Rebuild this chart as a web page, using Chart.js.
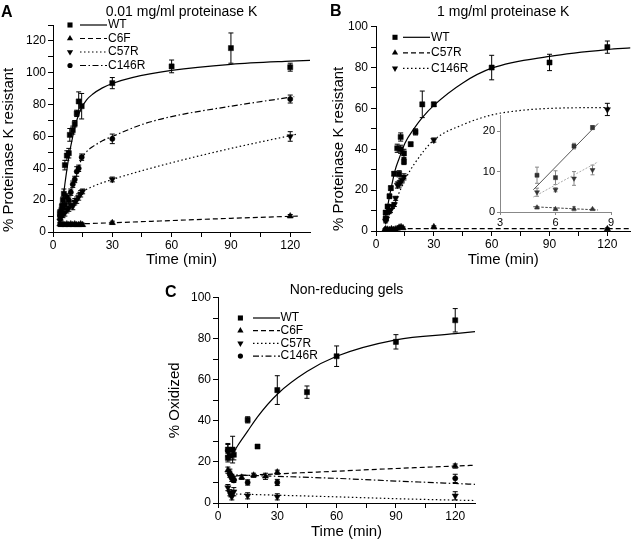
<!DOCTYPE html>
<html>
<head>
<meta charset="utf-8">
<script src="https://cdn.jsdelivr.net/npm/chart.js@4.4.1/dist/chart.umd.min.js"></script>
<style>
  body { margin: 0; background: #fff; }
  #wrap { position: relative; width: 635px; height: 543px; background: #fff; font-family: 'Liberation Sans', Arial, sans-serif; }
  #wrap canvas { position: absolute; }
  .panel { position: absolute; font-weight: bold; font-size: 16px; line-height: 16px; color: #000; }
</style>
</head>
<body>
<div id="wrap">
  <canvas id="chartA" width="318" height="270" style="left:0;top:0"></canvas>
  <canvas id="chartB" width="317" height="270" style="left:318px;top:0"></canvas>
  <canvas id="chartInset" width="150" height="125" style="left:470px;top:105px"></canvas>
  <canvas id="chartC" width="340" height="268" style="left:150px;top:275px"></canvas>
  <div class="panel" style="left:1px;top:4px">A</div>
  <div class="panel" style="left:330px;top:3px">B</div>
  <div class="panel" style="left:165px;top:284px">C</div>
</div>
<script>
// ---- data ----

// legend labels
const labelsAC = ['WT', 'C6F', 'C57R', 'C146R'];
const labelsB = ['WT', 'C57R', 'C146R'];

// Panel A - 0.01 mg/ml proteinase K
const aWT_t   = [3.5, 4.5, 5, 5.5, 6, 7, 8, 8.5, 10, 11, 12, 13, 14.5, 30, 60, 90, 120];
const aWT_y   = [12, 16, 20, 24, 42, 48, 49.5, 61, 64, 68, 74.5, 82, 79, 93.5, 104, 115.5, 103.5];
const aWT_err = [2, 2, 2, 3, 3, 3, 3, 4, 2.5, 2, 2, 6, 8, 3.5, 4, 9.5, 2.5];

const aC6F_t   = [3.5, 4, 5, 6, 7, 8, 9, 10, 11, 12, 13, 14, 15, 30, 120];
const aC6F_y   = [5, 4.5, 5, 4.5, 5, 4.5, 5, 4.5, 5, 4.5, 4.5, 5, 4.5, 5.8, 10];
const aC6F_err = [1, 1, 1, 1, 1, 1, 1, 1, 1, 1, 1, 1, 1, 1, 1];

const aC57R_t   = [3.5, 4, 5, 6, 7, 8, 9, 10, 11, 12, 13, 14, 15, 30, 120];
const aC57R_y   = [7, 9, 11, 12, 14, 15, 17, 16, 19, 20, 22, 24, 25.5, 33, 60];
const aC57R_err = [1.5, 1.5, 2, 2, 2, 2, 2, 2, 2, 2, 2, 2, 1.5, 1.5, 3];

const aC146R_t   = [3.5, 4, 5, 6, 7, 8, 9, 10, 11, 12, 13, 14.5, 30, 120];
const aC146R_y   = [10, 13, 15, 17, 22, 20, 25, 30, 33, 38, 40, 47, 58.5, 83.5];
const aC146R_err = [2, 2, 2, 2, 2, 2, 2, 2, 2, 3, 2, 2, 3, 2.5];

// fitted curves, A
const aFitWT_t = [4, 6, 8, 10, 12, 14, 17, 20, 25, 30, 40, 60, 90, 120, 130];
const aFitWT   = [10, 30, 47, 60, 70, 77, 83, 86.5, 90.5, 93.3, 97, 101.5, 105.3, 107.3, 107.8];
const aFitC146R_t = [4, 8, 12, 14.5, 17, 20, 25, 30, 45, 60, 90, 122];
const aFitC146R   = [9, 22, 37, 46, 50.5, 53.5, 57.3, 60, 67.5, 72.5, 79, 85];
const aFitC57R_t = [4, 8, 12, 15, 20, 30, 45, 60, 90, 123];
const aFitC57R   = [7, 14, 20, 25, 28.5, 33, 38.5, 43.5, 52.5, 61.3];
const aFitC6F_t = [4, 15, 30, 60, 90, 124];
const aFitC6F   = [5, 5.2, 5.8, 7.2, 8.6, 10];

// Panel B - 1 mg/ml proteinase K
const bWT_t   = [5, 5, 6, 7, 7.7, 9.4, 11, 12, 12.8, 12.8, 14.5, 14.5, 18, 20.5, 24, 30, 60, 90, 120];
const bWT_y   = [6, 9, 12, 17, 21, 28, 40.5, 28, 46, 40, 38, 34, 42.5, 48.5, 62, 62, 80, 82.5, 90];
const bWT_err = [1, 1, 1, 1, 1, 1, 2, 1.5, 2, 2, 2, 1.5, 1, 1.5, 6.5, 1, 6, 4, 3];

const bC57R_t   = [4.5, 5, 6, 7, 8, 9, 10, 11, 12, 13, 14, 30, 120];
const bC57R_y   = [0.5, 1, 0.8, 0.6, 1, 0.7, 0.9, 1.2, 1.8, 2, 1.5, 2, 1];
const bC57R_err = [0.5, 0.5, 0.5, 0.5, 0.5, 0.5, 0.5, 0.5, 0.5, 0.5, 0.5, 0.5, 0.5];

const bC146R_t   = [5, 5.5, 6.8, 7.5, 8.5, 9.5, 10.2, 11.1, 12, 12.8, 13.5, 14.5, 30, 120];
const bC146R_y   = [5, 6, 9.5, 10, 12, 13, 16, 22.5, 23, 24, 25, 26.5, 44.5, 59.5];
const bC146R_err = [1, 1, 1, 1, 1, 1, 1, 1.5, 1.5, 1.5, 1.5, 1.5, 1, 3];

const bFitWT_t = [4.5, 5, 7, 10, 12, 15, 20, 24, 30, 45, 60, 90, 120, 132];
const bFitWT   = [5, 7, 17, 30, 35.5, 43, 50.5, 55.5, 61.5, 72.5, 79.7, 85.5, 88.8, 89.6];
const bFitC146R_t = [5, 7, 10, 15, 20, 30, 45, 60, 75, 90, 122];
const bFitC146R   = [4, 8.5, 14.5, 25, 33, 44.5, 52, 56.8, 59, 60, 60.5];
const bFitC57R_t = [4, 132];
const bFitC57R   = [1.2, 1.2];

// Inset of B (first minutes)
const insT = [5, 6, 7, 8];
const insWT      = [9.1, 8.5, 16.3, 20.9];
const insWT_err  = [2, 1.7, 0.7, 0.5];
const insC146R     = [4.9, 5.5, 8.3, 10.4];
const insC146R_err = [1, 0.5, 1.7, 1.2];
const insC57R     = [1.1, 0.7, 0.8, 0.7];
const insC57R_err = [0.3, 0.2, 0.5, 0.2];
const insFit_t = [4.8, 8.3];
const insFitWT    = [5.5, 21.9];
const insFitC146R = [3.7, 12.4];
const insFitC57R  = [1.3, 0.5];

// Panel C - non-reducing gels
const cWT_t   = [5, 5, 6, 7.4, 8, 15, 20, 30, 45, 60, 90, 120];
const cWT_y   = [26, 22, 23, 26, 23.5, 40.5, 27.5, 55, 54, 71.5, 78.5, 89];
const cWT_err = [3, 2, 2, 6.5, 2.5, 1.5, 0, 7, 3, 5, 3.5, 5.7];

const cC6F_t   = [5, 6, 7, 8, 12, 18, 24, 30, 120];
const cC6F_y   = [16, 15, 13, 12, 12.5, 13.5, 13, 15, 18];
const cC6F_err = [1.5, 1.5, 1, 1, 1, 1, 1.5, 1, 1];

const cC57R_t   = [5, 6, 6.5, 7, 8, 15, 30, 120];
const cC57R_y   = [7.5, 5, 4, 3, 5.5, 3.5, 3, 3.5];
const cC57R_err = [1.5, 1.5, 1, 1.5, 2, 1.5, 1.5, 2];

const cC146R_t   = [5, 6, 7, 8, 15, 30, 120];
const cC146R_y   = [25.5, 14, 12, 11, 10, 10, 12];
const cC146R_err = [3, 1.5, 1.5, 1, 1.3, 1.5, 2];

const cFitWT_t = [7, 10, 15, 20, 30, 45, 60, 90, 120, 130];
const cFitWT   = [23, 28, 35, 42, 53, 64, 71.5, 79.5, 82.5, 83.5];
const cFit_t = [5, 30, 60, 90, 120, 130];
const cFitC6F   = [13, 14.2, 15.5, 16.8, 18, 18.4];
const cFitC146R = [13.8, 13, 12, 10.7, 9.5, 9.1];
const cFitC57R  = [4.5, 3.8, 3, 2.1, 1.4, 1.2];

// ---- styles ----
Chart.defaults.font.family = "'Liberation Sans', Arial, sans-serif";
Chart.defaults.color = '#000';

const DASH = { solid: [], dashed: [5, 3], dotted: [1.5, 2.5], dashdot: [6, 2.5, 1.5, 2.5] };
const MARK = {
    square: { pointStyle: 'rect', radius: 3.6, rotation: 0 },
    up: { pointStyle: 'triangle', radius: 3.6, rotation: 0 },
    down: { pointStyle: 'triangle', radius: 3.6, rotation: 180 },
    dot: { pointStyle: 'circle', radius: 2.6, rotation: 0 }
};

function pts(xs, ys) {
    return xs.map((x, i) => ({ x: x, y: ys[i] }));
}

function markers(xs, ys, errs, mark, opt) {
    opt = opt || {};
    const m = MARK[mark];
    const col = opt.color || '#000';
    return {
        data: pts(xs, ys), errors: errs, errColor: opt.errColor || '#000', capHalf: opt.cap || 2.5,
        showLine: false, pointStyle: m.pointStyle, pointRotation: m.rotation,
        pointRadius: m.radius * (opt.scale || 1), pointBackgroundColor: col, pointBorderColor: col,
        pointBorderWidth: 0.5, order: 1
    };
}

function fit(xs, ys, dash, opt) {
    opt = opt || {};
    return {
        data: pts(xs, ys), showLine: true, pointRadius: 0,
        borderColor: opt.color || '#000', borderWidth: opt.width || 1.2,
        borderDash: opt.dash || DASH[dash], cubicInterpolationMode: 'monotone', fill: false, order: 2
    };
}

function axis(o) {
    const col = o.color || '#000';
    return {
        type: 'linear', min: o.min, max: o.max,
        afterFit: o.horiz ? s => { s.height = o.size; } : s => { s.width = o.size; },
        border: { display: true, color: col, width: 1 },
        grid: { display: true, drawOnChartArea: false, drawTicks: true, tickLength: o.tick || 5, color: col, tickColor: col, tickWidth: 1 },
        ticks: {
            stepSize: o.step, includeBounds: false, autoSkip: false, maxRotation: 0, minRotation: 0,
            padding: o.pad, font: { size: o.font || 12 }, color: '#000',
            callback: v => (v % o.every === 0 ? String(v) : '')
        },
        title: o.title
            ? { display: true, text: o.title, font: { size: 15, weight: 'normal' }, align: o.align || 'center', padding: o.tpad, color: '#000' }
            : { display: false }
    };
}

// error bars, drawn through the chart scales
const errorBars = {
    id: 'errorBars',
    beforeDatasetsDraw(chart) {
        const ctx = chart.ctx;
        const xs = chart.scales.x, ys = chart.scales.y;
        chart.data.datasets.forEach(ds => {
            if (!ds.errors) return;
            ctx.save();
            ctx.strokeStyle = ds.errColor;
            ctx.lineWidth = 1;
            ds.data.forEach((p, i) => {
                const e = ds.errors[i];
                if (!e) return;
                const px = xs.getPixelForValue(p.x);
                const top = ys.getPixelForValue(p.y + e);
                const bot = ys.getPixelForValue(p.y - e);
                const h = ds.capHalf;
                ctx.beginPath();
                ctx.moveTo(px, top); ctx.lineTo(px, bot);
                ctx.moveTo(px - h, top); ctx.lineTo(px + h, top);
                ctx.moveTo(px - h, bot); ctx.lineTo(px + h, bot);
                ctx.stroke();
            });
            ctx.restore();
        });
    }
};

// key with marker + line sample + label (like the original figure)
const keyBox = {
    id: 'keyBox',
    afterDraw(chart, args, opts) {
        if (!opts.items) return;
        const ctx = chart.ctx, area = chart.chartArea;
        ctx.save();
        opts.items.forEach((it, i) => {
            const y = area.top + opts.top + i * opts.gap;
            const m = MARK[it.mark];
            ctx.fillStyle = '#000';
            ctx.strokeStyle = '#000';
            Chart.helpers.drawPoint(ctx, { pointStyle: m.pointStyle, rotation: m.rotation, radius: m.radius, borderWidth: 0 }, area.left + opts.mark, y);
            ctx.lineWidth = 1.2;
            ctx.setLineDash(DASH[it.dash]);
            ctx.beginPath();
            ctx.moveTo(area.left + opts.from, y);
            ctx.lineTo(area.left + opts.to, y);
            ctx.stroke();
            ctx.setLineDash([]);
            ctx.font = "12px 'Liberation Sans', Arial, sans-serif";
            ctx.textBaseline = 'middle';
            ctx.textAlign = 'left';
            ctx.fillText(it.label, area.left + opts.text, y);
        });
        ctx.restore();
    }
};

function makeChart(id, datasets, o) {
    return new Chart(document.getElementById(id), {
        type: 'scatter',
        data: { datasets: datasets },
        options: {
            responsive: false, animation: false, events: [],
            layout: { padding: o.padding },
            scales: { x: o.x, y: o.y },
            plugins: {
                legend: { display: false },
                tooltip: { enabled: false },
                title: o.title
                    ? { display: true, text: o.title, fullSize: false, color: '#000',
                        font: { size: 14, weight: 'normal', lineHeight: o.titleLH || 1.2 }, padding: o.titlePad }
                    : { display: false },
                keyBox: o.key || {}
            }
        },
        plugins: [errorBars, keyBox]
    });
}

// ---- Panel A ----
makeChart('chartA', [
    markers(aWT_t, aWT_y, aWT_err, 'square'),
    markers(aC6F_t, aC6F_y, aC6F_err, 'up'),
    markers(aC57R_t, aC57R_y, aC57R_err, 'down'),
    markers(aC146R_t, aC146R_y, aC146R_err, 'dot'),
    fit(aFitWT_t, aFitWT, 'solid'),
    fit(aFitC6F_t, aFitC6F, 'dashed'),
    fit(aFitC57R_t, aFitC57R, 'dotted'),
    fit(aFitC146R_t, aFitC146R, 'dashdot')
], {
    padding: { left: 0, right: 8, top: 0, bottom: 0 },
    title: '0.01 mg/ml proteinase K',
    titlePad: { top: 4, bottom: 4.2 },
    x: axis({ horiz: true, min: 0, max: 130, step: 15, every: 30, size: 38, pad: 1, title: 'Time (min)', tpad: { top: 0, bottom: 1 } }),
    y: axis({ min: 0, max: 130, step: 10, every: 20, size: 53, pad: 2, title: '% Proteinase K resistant', align: 'start', tpad: { top: 0, bottom: 0 } }),
    key: {
        top: 0, gap: 13.5, mark: 17, from: 27, to: 54, text: 55,
        items: [
            { label: labelsAC[0], mark: 'square', dash: 'solid' },
            { label: labelsAC[1], mark: 'up', dash: 'dashed' },
            { label: labelsAC[2], mark: 'down', dash: 'dotted' },
            { label: labelsAC[3], mark: 'dot', dash: 'dashdot' }
        ]
    }
});

// ---- Panel B ----
makeChart('chartB', [
    markers(bWT_t, bWT_y, bWT_err, 'square'),
    markers(bC57R_t, bC57R_y, bC57R_err, 'up'),
    markers(bC146R_t, bC146R_y, bC146R_err, 'down'),
    fit(bFitWT_t, bFitWT, 'solid'),
    fit(bFitC57R_t, bFitC57R, 'dashed'),
    fit(bFitC146R_t, bFitC146R, 'dotted')
], {
    padding: { left: 0, right: 0, top: 0, bottom: 0 },
    title: '1 mg/ml proteinase K',
    titlePad: { top: 3.6, bottom: 6.3 },
    x: axis({ horiz: true, min: 0, max: 132, step: 15, every: 30, size: 39, pad: 1, title: 'Time (min)', tpad: { top: 0, bottom: 1 } }),
    y: axis({ min: 0, max: 100, step: 10, every: 20, size: 58, pad: 3, title: '% Proteinase K resistant', align: 'start', tpad: { top: 11.5, bottom: 0 } }),
    key: {
        top: 10.6, gap: 15.5, mark: 19, from: 27, to: 54, text: 55,
        items: [
            { label: labelsB[0], mark: 'square', dash: 'solid' },
            { label: labelsB[1], mark: 'up', dash: 'dashed' },
            { label: labelsB[2], mark: 'down', dash: 'dotted' }
        ]
    }
});

// ---- Inset of B ----
const grey = '#333';
makeChart('chartInset', [
    markers(insT, insWT, insWT_err, 'square', { color: grey, errColor: '#888', cap: 2, scale: 0.8 }),
    markers(insT, insC146R, insC146R_err, 'down', { color: grey, errColor: '#888', cap: 2, scale: 0.8 }),
    markers(insT, insC57R, insC57R_err, 'up', { color: grey, errColor: '#888', cap: 2, scale: 0.8 }),
    fit(insFit_t, insFitWT, 'solid', { color: '#555', width: 1 }),
    fit(insFit_t, insFitC146R, 'dotted', { color: '#aaa', width: 1, dash: [2, 1.5] }),
    fit(insFit_t, insFitC57R, 'dashed', { color: '#444', width: 1, dash: [2.5, 1.5] })
], {
    padding: { left: 0, right: 9, top: 10, bottom: 0 },
    x: axis({ horiz: true, min: 3, max: 9, step: 3, every: 3, size: 18, pad: 1, tick: 3, font: 11, color: '#888' }),
    y: axis({ min: 0, max: 24, step: 10, every: 10, size: 30, pad: 2, tick: 3, font: 11, color: '#888' })
});

// ---- Panel C ----
makeChart('chartC', [
    markers(cWT_t, cWT_y, cWT_err, 'square'),
    markers(cC6F_t, cC6F_y, cC6F_err, 'up'),
    markers(cC57R_t, cC57R_y, cC57R_err, 'down'),
    markers(cC146R_t, cC146R_y, cC146R_err, 'dot'),
    fit(cFitWT_t, cFitWT, 'solid'),
    fit(cFit_t, cFitC6F, 'dashed'),
    fit(cFit_t, cFitC57R, 'dotted'),
    fit(cFit_t, cFitC146R, 'dashdot')
], {
    padding: { left: 0, right: 15, top: 0, bottom: 0 },
    title: 'Non-reducing gels',
    titleLH: 1,
    titlePad: { top: 8, bottom: 0.7 },
    x: axis({ horiz: true, min: 0, max: 130, step: 15, every: 30, size: 40, pad: 1, title: 'Time (min)', tpad: { top: 0, bottom: 2 } }),
    y: axis({ min: 0, max: 100, step: 10, every: 20, size: 68, pad: 2, title: '% Oxidized', tpad: { top: 16, bottom: 0 } }),
    key: {
        top: 20.3, gap: 12.7, mark: 22.4, from: 35, to: 62, text: 62.5,
        items: [
            { label: labelsAC[0], mark: 'square', dash: 'solid' },
            { label: labelsAC[1], mark: 'up', dash: 'dashed' },
            { label: labelsAC[2], mark: 'down', dash: 'dotted' },
            { label: labelsAC[3], mark: 'dot', dash: 'dashdot' }
        ]
    }
});
</script>
</body>
</html>
